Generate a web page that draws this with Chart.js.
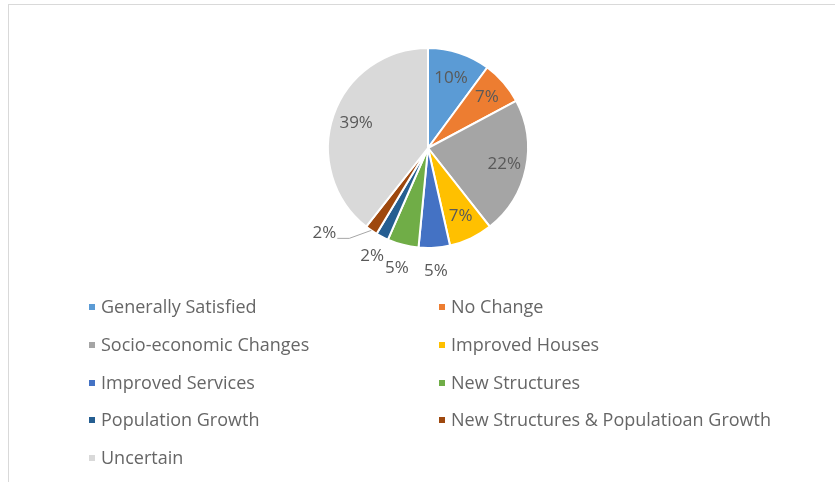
<!DOCTYPE html>
<html>
<head>
<meta charset="utf-8">
<script src="https://cdn.jsdelivr.net/npm/chart.js@4.4.1/dist/chart.umd.min.js"></script>
<style>
    html, body { margin: 0; padding: 0; background: #fff; }
    .wrap { position: relative; width: 835px; height: 482px; overflow: hidden; }
    .frame { position: absolute; left: 8px; top: 4px; width: 900px; height: 600px; border: 1px solid #d9d9d9; box-sizing: border-box; }
    canvas { position: absolute; left: 0; top: 0; }
    .legend { position: absolute; left: 0; top: 0; font-family: "Open Sans", sans-serif; font-size: 18px; color: #666666; }
    .legend .item { position: absolute; white-space: nowrap; line-height: 20px; }
    .legend .box { position: absolute; width: 6px; height: 6px; top: 8px; }
</style>
</head>
<body>
<div class="wrap">
    <div class="frame"></div>
    <canvas id="pie" width="835" height="482"></canvas>
    <div class="legend" id="legend"></div>
</div>
<script>
const categories = [
    'Generally Satisfied',
    'No Change',
    'Socio-economic Changes',
    'Improved Houses',
    'Improved Services',
    'New Structures',
    'Population Growth',
    'New Structures & Populatioan Growth',
    'Uncertain'
];
const shares = [10, 7, 22, 7, 5, 5, 2, 2, 39];
const colors = ['#5b9bd5', '#ed7d31', '#a5a5a5', '#ffc000', '#4472c4', '#70ad47', '#255e91', '#9e480e', '#d9d9d9'];

// label distance from the centre, as a fraction of the radius (0 = callout)
const labelDist = [0.74, 0.78, 0.78, 0.76, 1.23, 1.24, 1.22, 0, 0.76];

const pieLabels = {
    id: 'pieLabels',
    afterDatasetsDraw(chart) {
        const ctx = chart.ctx;
        const arcs = chart.getDatasetMeta(0).data;
        ctx.save();
        ctx.font = '17px "Open Sans", sans-serif';
        ctx.fillStyle = '#595959';
        ctx.textBaseline = 'middle';
        arcs.forEach((arc, i) => {
            const { x, y, startAngle, endAngle, outerRadius } = arc.getProps(['x', 'y', 'startAngle', 'endAngle', 'outerRadius'], true);
            const mid = (startAngle + endAngle) / 2;
            const text = shares[i] + '%';
            if (labelDist[i] === 0) {
                // callout with a leader line
                const ex = x + Math.cos(mid) * outerRadius * 1.0;
                const ey = y + Math.sin(mid) * outerRadius * 1.0;
                const kx = ex - 22, ky = ey + 8;
                ctx.strokeStyle = '#a6a6a6';
                ctx.lineWidth = 1;
                ctx.beginPath();
                ctx.moveTo(ex, ey);
                ctx.lineTo(kx, ky);
                ctx.lineTo(kx - 12, ky);
                ctx.stroke();
                ctx.textAlign = 'right';
                ctx.fillText(text, kx - 13, ky - 5);
                return;
            }
            ctx.textAlign = 'center';
            ctx.fillText(text, x + Math.cos(mid) * outerRadius * labelDist[i], y + Math.sin(mid) * outerRadius * labelDist[i]);
        });
        ctx.restore();
    }
};

new Chart(document.getElementById('pie'), {
    type: 'pie',
    data: {
        labels: categories,
        datasets: [{
            data: shares,
            backgroundColor: colors,
            borderColor: '#ffffff',
            borderWidth: 2
        }]
    },
    options: {
        responsive: false,
        animation: false,
        layout: { padding: { top: 47, bottom: 233, left: 21, right: 0 } },
        plugins: {
            legend: { display: false },
            tooltip: { enabled: false }
        }
    },
    plugins: [pieLabels]
});

// two-column legend under the pie
const legendEl = document.getElementById('legend');
const colX = [101, 451];
const rowY = [296, 334, 372, 409, 447];
categories.forEach((name, i) => {
    const item = document.createElement('div');
    item.className = 'item';
    item.style.left = colX[i % 2] + 'px';
    item.style.top = rowY[Math.floor(i / 2)] + 'px';
    item.innerHTML = `<span class="box" style="left:-12px;background:${colors[i]}"></span>${name}`;
    legendEl.appendChild(item);
});
</script>
</body>
</html>
